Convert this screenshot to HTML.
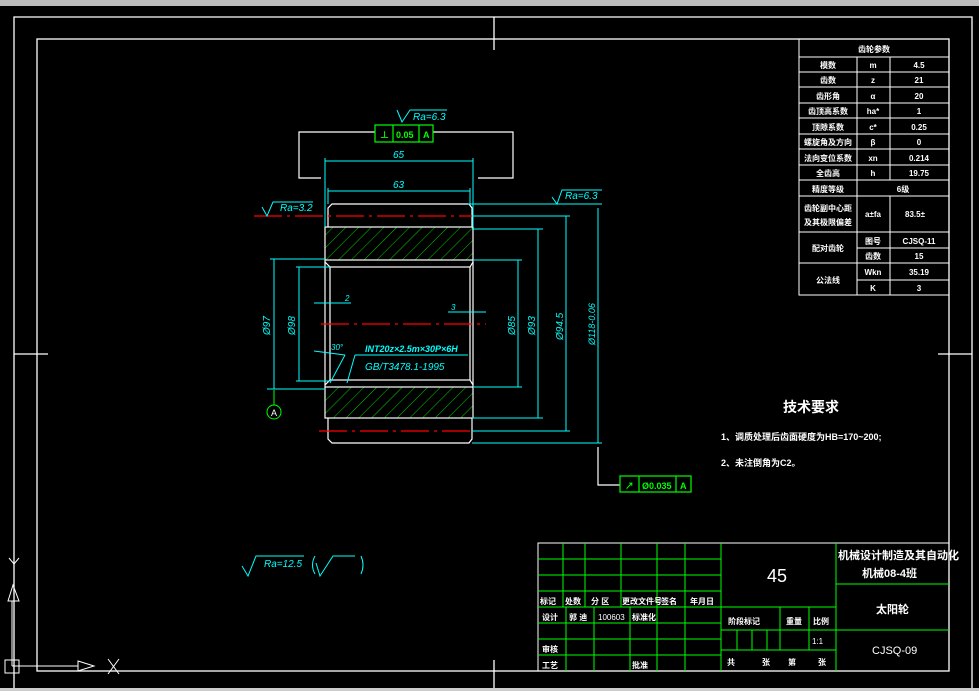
<!DOCTYPE html>
<html><head><meta charset="utf-8"><style>
html,body{margin:0;padding:0;background:#000;width:979px;height:691px;overflow:hidden}
svg{display:block}
text{font-family:"Liberation Sans","Noto Sans CJK SC",sans-serif}
.w{fill:#fff}.c{fill:#0ff}.g{fill:#0f0}
</style></head><body>
<svg width="979" height="691" viewBox="0 0 979 691" xmlns="http://www.w3.org/2000/svg">
<defs>
<pattern id="h" patternUnits="userSpaceOnUse" width="9" height="9" patternTransform="rotate(45)">
<line x1="0" y1="0" x2="0" y2="9" stroke="#0c0" stroke-width="1"/></pattern>
</defs>
<rect x="0" y="0" width="979" height="6" fill="#bbb"/>
<rect x="0" y="688" width="979" height="3" fill="#ccc"/>
<!-- frames -->
<g fill="none" stroke="#fff" stroke-width="1.3">
<polyline points="14,688 14,17 972,17 972,688"/>
<rect x="37" y="39" width="912" height="632"/>
<line x1="494" y1="17" x2="494" y2="50"/>
<line x1="14" y1="354" x2="48" y2="354"/>
<line x1="938" y1="354" x2="972" y2="354"/>
<line x1="494" y1="660" x2="494" y2="688"/>
</g>
<!-- UCS icon -->
<g fill="none" stroke="#fff" stroke-width="1">
<line x1="14" y1="540" x2="14" y2="688"/>
<polyline points="9,558 14,564 19,558"/>
<polygon points="13,585 8,601 19,601"/>
<line x1="12" y1="601" x2="12" y2="666"/>
<rect x="5" y="660" width="14" height="13"/>
<line x1="12" y1="666" x2="78" y2="666"/>
<polygon points="78,661 94,666 78,671"/>
<line x1="108" y1="659" x2="119" y2="674"/><line x1="119" y1="659" x2="108" y2="674"/>
</g>
<!-- Ra 12.5 -->
<g fill="none" stroke="#0ff" stroke-width="1">
<polyline points="242,566 248,576 256,556 304,556"/>
<path d="M315,556 Q310,565 315,574"/>
<polyline points="316,563 320,576 333,556 355,556"/>
<path d="M361,556 Q365,565 361,574"/>
</g>
<text x="264" y="567" class="c" font-size="10" font-style="italic">Ra=12.5</text>
<!-- gear drawing -->
<rect x="325" y="227" width="148" height="33" fill="url(#h)"/>
<rect x="325" y="387" width="148" height="31" fill="url(#h)"/>
<g fill="none" stroke="#fff" stroke-width="1.2">
<polyline points="328,227 328,208 332,204 469,204 472,208 472,227"/>
<rect x="325" y="227" width="148" height="33"/>
<rect x="325" y="387" width="148" height="31"/>
<line x1="325" y1="260" x2="325" y2="387"/><line x1="473" y1="260" x2="473" y2="387"/>
<rect x="330" y="267" width="140" height="113"/>
<line x1="325" y1="262" x2="330" y2="267"/><line x1="473" y1="262" x2="470" y2="267"/>
<line x1="325" y1="385" x2="330" y2="380"/><line x1="473" y1="385" x2="470" y2="380"/>
<polyline points="328,418 328,439 332,443 469,443 472,439 472,418"/>
<polyline points="375,132 299,132 299,178 321,178"/>
<polyline points="433,132 513,132 513,178 478,178"/>
<polyline points="598,447 598,485 620,485"/>
</g>
<g stroke="#f00" stroke-width="1.2" stroke-dasharray="28,5,3,5">
<line x1="254" y1="216" x2="472" y2="216"/>
<line x1="321" y1="324" x2="486" y2="324"/>
<line x1="319" y1="431" x2="472" y2="431"/>
</g>
<g fill="none" stroke="#0ff" stroke-width="1">
<line x1="325" y1="158" x2="325" y2="227"/><line x1="473" y1="158" x2="473" y2="227"/>
<line x1="325" y1="161" x2="473" y2="161"/>
<line x1="328" y1="188" x2="328" y2="204"/><line x1="470" y1="188" x2="470" y2="204"/>
<line x1="328" y1="191" x2="470" y2="191"/>
<line x1="468" y1="204" x2="602" y2="204"/>
<line x1="472" y1="216" x2="570" y2="216"/>
<line x1="472" y1="229" x2="543" y2="229"/>
<line x1="473" y1="260" x2="522" y2="260"/>
<line x1="473" y1="387" x2="522" y2="387"/>
<line x1="472" y1="418" x2="543" y2="418"/>
<line x1="472" y1="431" x2="570" y2="431"/>
<line x1="472" y1="443" x2="602" y2="443"/>
<line x1="518" y1="260" x2="518" y2="387"/>
<line x1="538" y1="229" x2="538" y2="418"/>
<line x1="566" y1="216" x2="566" y2="431"/>
<line x1="598" y1="208" x2="598" y2="443"/>
<line x1="270" y1="259" x2="325" y2="259"/><line x1="267" y1="389" x2="325" y2="389"/>
<line x1="274" y1="259" x2="274" y2="389"/>
<line x1="296" y1="267" x2="330" y2="267"/><line x1="296" y1="381" x2="330" y2="381"/>
<line x1="299" y1="267" x2="299" y2="381"/>
<line x1="314" y1="303" x2="351" y2="303"/>
<line x1="448" y1="312" x2="486" y2="312"/>
<line x1="314" y1="351" x2="345" y2="355"/>
<line x1="345" y1="355" x2="330" y2="383"/>
<line x1="355" y1="355" x2="347" y2="383"/>
<line x1="355" y1="355" x2="468" y2="355"/>
<polyline points="397,110 402,122 410,110 447,110"/>
<polyline points="262,207 267,216 273,202 313,202"/>
<polyline points="552,197 557,204 562,190 602,190"/>
</g>
<g class="c" font-size="10" font-style="italic">
<text x="393" y="158">65</text><text x="393" y="188">63</text>
<text x="413" y="120">Ra=6.3</text>
<text x="280" y="211">Ra=3.2</text>
<text x="565" y="199">Ra=6.3</text>
<text x="345" y="301" font-size="8">2</text><text x="451" y="310" font-size="8">3</text>
<text x="331" y="350" font-size="8">30°</text>
<text x="365" y="352" font-size="9" font-weight="bold">INT20z×2.5m×30P×6H</text>
<text x="365" y="370">GB/T3478.1-1995</text>
<text transform="translate(270,335) rotate(-90)">Ø97</text>
<text transform="translate(295,335) rotate(-90)">Ø98</text>
<text transform="translate(515,335) rotate(-90)">Ø85</text>
<text transform="translate(535,335) rotate(-90)">Ø93</text>
<text transform="translate(563,340) rotate(-90)">Ø94.5</text>
<text transform="translate(595,345) rotate(-90)" font-size="9">Ø118-0.06</text>
</g>
<!-- datum A -->
<line x1="274" y1="390" x2="274" y2="405" stroke="#0f0"/>
<circle cx="274" cy="412" r="7" fill="none" stroke="#0f0"/>
<text x="271" y="416" class="w" font-size="9">A</text>
<!-- tolerance frames -->
<g fill="none" stroke="#0f0" stroke-width="1.2">
<rect x="375" y="125" width="58" height="17"/><line x1="393" y1="125" x2="393" y2="142"/><line x1="419" y1="125" x2="419" y2="142"/>
<rect x="620" y="476" width="71" height="16"/><line x1="639" y1="476" x2="639" y2="492"/><line x1="676" y1="476" x2="676" y2="492"/>
</g>
<g class="g" font-size="9" font-weight="bold">
<text x="380" y="138">⊥</text><text x="396" y="138">0.05</text><text x="423" y="138">A</text>
<text x="625" y="489">↗</text><text x="642" y="489">Ø0.035</text><text x="680" y="489">A</text>
</g>
<!-- tech req -->
<g class="w" font-weight="bold">
<text x="783" y="412" font-size="14">技术要求</text>
<text x="721" y="440" font-size="9">1、调质处理后齿面硬度为HB=170~200;</text>
<text x="721" y="466" font-size="9">2、未注倒角为C2。</text>
</g>
<!-- gear table -->
<g fill="none" stroke="#fff" stroke-width="1">
<rect x="799" y="39" width="150" height="256"/>
<line x1="799" y1="57" x2="949" y2="57"/>
<line x1="799" y1="72" x2="949" y2="72"/><line x1="799" y1="87" x2="949" y2="87"/>
<line x1="799" y1="103" x2="949" y2="103"/><line x1="799" y1="118" x2="949" y2="118"/>
<line x1="799" y1="134" x2="949" y2="134"/><line x1="799" y1="149" x2="949" y2="149"/>
<line x1="799" y1="165" x2="949" y2="165"/><line x1="799" y1="180" x2="949" y2="180"/>
<line x1="799" y1="196" x2="949" y2="196"/><line x1="799" y1="232" x2="949" y2="232"/>
<line x1="799" y1="263" x2="949" y2="263"/>
<line x1="857" y1="248" x2="949" y2="248"/><line x1="857" y1="280" x2="949" y2="280"/>
<line x1="857" y1="57" x2="857" y2="295"/>
<line x1="890" y1="57" x2="890" y2="180"/><line x1="890" y1="196" x2="890" y2="295"/>
</g>
<g class="w" font-size="8" text-anchor="middle" font-weight="bold">
<text x="874" y="52">齿轮参数</text>
<text x="828" y="68">模数</text><text x="873" y="68">m</text><text x="919" y="68">4.5</text>
<text x="828" y="83">齿数</text><text x="873" y="83">z</text><text x="919" y="83">21</text>
<text x="828" y="99">齿形角</text><text x="873" y="99">α</text><text x="919" y="99">20</text>
<text x="828" y="114">齿顶高系数</text><text x="873" y="114">ha*</text><text x="919" y="114">1</text>
<text x="828" y="130">顶隙系数</text><text x="873" y="130">c*</text><text x="919" y="130">0.25</text>
<text x="828" y="145">螺旋角及方向</text><text x="873" y="145">β</text><text x="919" y="145">0</text>
<text x="828" y="161">法向变位系数</text><text x="873" y="161">xn</text><text x="919" y="161">0.214</text>
<text x="828" y="176">全齿高</text><text x="873" y="176">h</text><text x="919" y="176">19.75</text>
<text x="828" y="192">精度等级</text><text x="903" y="192">6级</text>
<text x="828" y="211">齿轮副中心距</text><text x="828" y="225">及其极限偏差</text>
<text x="873" y="217">a±fa</text><text x="915" y="217">83.5±</text>
<text x="828" y="251">配对齿轮</text><text x="873" y="244">图号</text><text x="919" y="244">CJSQ-11</text>
<text x="873" y="259">齿数</text><text x="919" y="259">15</text>
<text x="828" y="283">公法线</text><text x="873" y="275">Wkn</text><text x="919" y="275">35.19</text>
<text x="873" y="291">K</text><text x="919" y="291">3</text>
</g>
<!-- title block -->
<g fill="none" stroke="#0f0" stroke-width="1">
<rect x="538" y="543" width="411" height="128" stroke="#fff"/>
<line x1="538" y1="559" x2="721" y2="559"/><line x1="538" y1="575" x2="721" y2="575"/>
<line x1="538" y1="591" x2="721" y2="591"/><line x1="538" y1="607" x2="836" y2="607"/>
<line x1="538" y1="623" x2="721" y2="623"/><line x1="538" y1="639" x2="721" y2="639"/>
<line x1="538" y1="655" x2="721" y2="655"/>
<line x1="563" y1="543" x2="563" y2="607"/><line x1="585" y1="543" x2="585" y2="607"/>
<line x1="621" y1="543" x2="621" y2="607"/><line x1="657" y1="543" x2="657" y2="671"/>
<line x1="685" y1="543" x2="685" y2="671"/><line x1="721" y1="543" x2="721" y2="671"/>
<line x1="566" y1="607" x2="566" y2="671"/><line x1="594" y1="607" x2="594" y2="671"/>
<line x1="630" y1="607" x2="630" y2="671"/>
<line x1="836" y1="543" x2="836" y2="671"/>
<line x1="836" y1="584" x2="949" y2="584"/><line x1="721" y1="630" x2="949" y2="630"/>
<line x1="721" y1="650" x2="836" y2="650"/>
<line x1="780" y1="607" x2="780" y2="650"/><line x1="809" y1="607" x2="809" y2="650"/>
<line x1="737" y1="630" x2="737" y2="650"/><line x1="752" y1="630" x2="752" y2="650"/>
<line x1="767" y1="630" x2="767" y2="650"/>
</g>
<g class="w" font-size="8" font-weight="bold">
<text x="540" y="604">标记</text><text x="565" y="604">处数</text><text x="591" y="604">分 区</text>
<text x="622" y="604">更改文件号</text><text x="661" y="604">签名</text><text x="690" y="604">年月日</text>
<text x="542" y="620">设计</text><text x="569" y="620">郭 迪</text>
<text x="598" y="620" font-weight="normal">100603</text><text x="632" y="620">标准化</text>
<text x="542" y="652">审核</text><text x="542" y="668">工艺</text><text x="632" y="668">批准</text>
<text x="728" y="624">阶段标记</text><text x="786" y="624">重量</text><text x="813" y="624">比例</text>
<text x="812" y="644" font-weight="normal">1:1</text>
<text x="727" y="665">共</text><text x="762" y="665">张</text><text x="788" y="665">第</text><text x="818" y="665">张</text>
<text x="838" y="559" font-size="11">机械设计制造及其自动化</text>
<text x="862" y="577" font-size="11">机械08-4班</text>
<text x="876" y="613" font-size="11">太阳轮</text>
<text x="872" y="654" font-size="11" font-weight="normal">CJSQ-09</text>
</g>
<text x="767" y="582" class="w" font-size="18">45</text>
</svg>
</body></html>
